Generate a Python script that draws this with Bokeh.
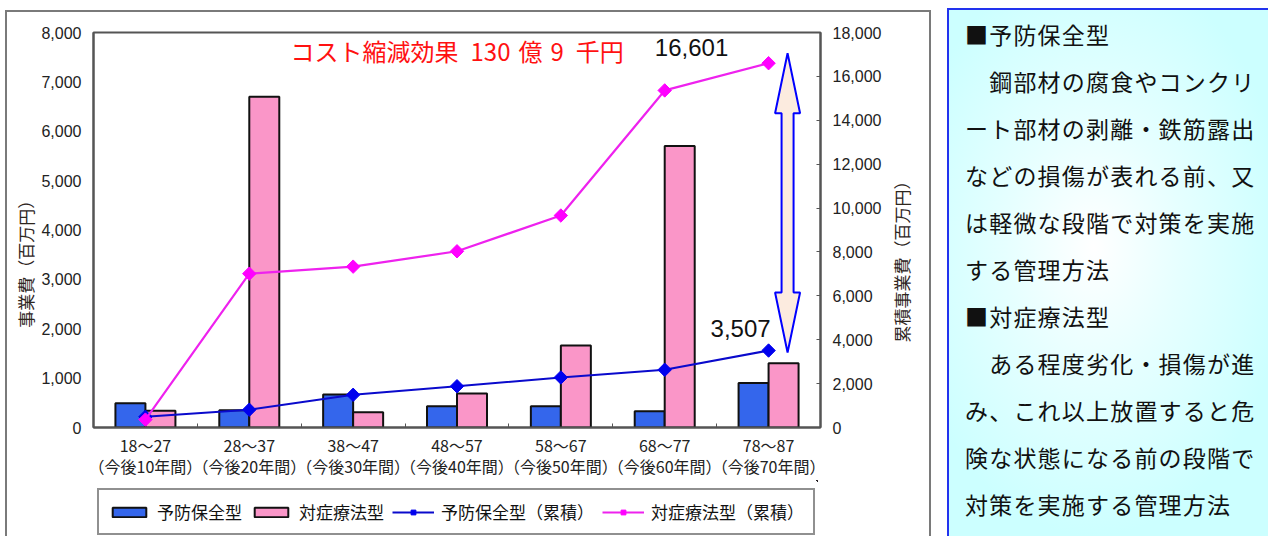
import math
from bokeh.plotting import figure
from bokeh.models import (ColumnDataSource, Range1d, LinearAxis, FixedTicker,
                          NumeralTickFormatter, Legend, LegendItem, Label, Div)
from bokeh.layouts import row, column
from bokeh.transform import dodge
from bokeh.embed import file_html
from bokeh.resources import INLINE

# ---------------- data ----------------
periods = ["18〜27", "28〜37", "38〜47", "48〜57", "58〜67", "68〜77", "78〜87"]
spans = ["（今後10年間）", "（今後20年間）", "（今後30年間）", "（今後40年間）",
         "（今後50年間）", "（今後60年間）", "（今後70年間）"]
preventive = [490, 350, 670, 430, 430, 330, 900]          # 予防保全型 (百万円)
reactive = [340, 6700, 310, 690, 1660, 5700, 1300]        # 対症療法型 (百万円)
preventive_cum = [490, 810, 1490, 1880, 2280, 2630, 3507]  # 予防保全型（累積）
reactive_cum = [360, 7010, 7330, 8030, 9660, 15360, 16601] # 対症療法型（累積）
left_ticks = [0, 1000, 2000, 3000, 4000, 5000, 6000, 7000, 8000]
right_ticks = [0, 2000, 4000, 6000, 8000, 10000, 12000, 14000, 16000, 18000]
series_names = ["予防保全型", "対症療法型", "予防保全型（累積）", "対症療法型（累積）"]
left_title = "事業費（百万円）"
right_title = "累積事業費（百万円）"
saving_text = "コスト縮減効果\u2002130\u2004億\u20049\u2002千円"
panel_lines = ["■予防保全型",
               "　鋼部材の腐食やコンクリ",
               "ート部材の剥離・鉄筋露出",
               "などの損傷が表れる前、又",
               "は軽微な段階で対策を実施",
               "する管理方法",
               "■対症療法型",
               "　ある程度劣化・損傷が進",
               "み、これ以上放置すると危",
               "険な状態になる前の段階で",
               "対策を実施する管理方法"]

FONT = "Noto Sans CJK JP"
BORDER = "2px solid #7a7a7a"
C_BLUE_BAR, C_PINK_BAR = "#3466EC", "#FA96C8"
C_BLUE_LINE, C_BLUE_MK = "#0A0ACC", "#0000EE"
C_PINK_LINE, C_PINK_MK = "#EE22EE", "#FF00FF"

n = len(periods)
idx = list(range(n))
src = ColumnDataSource(dict(x=idx, prev=preventive, reac=reactive,
                            prev_cum=preventive_cum, reac_cum=reactive_cum))

FRAME_W, FRAME_H = 727, 395
CANVAS_W = 86 + FRAME_W + 106
p = figure(frame_width=FRAME_W, frame_height=FRAME_H,
           min_border_left=86, min_border_right=106, min_border_top=20, min_border_bottom=52,
           x_range=Range1d(-0.5, n - 0.5), y_range=Range1d(left_ticks[0], left_ticks[-1]),
           output_backend="svg", toolbar_location=None,
           background_fill_color="white", border_fill_color="white")
p.extra_y_ranges = {"right": Range1d(right_ticks[0], right_ticks[-1])}
p.margin = 0

p.xgrid.visible = False
p.ygrid.visible = False
p.outline_line_color = "#555555"
p.outline_line_width = 2

# x axis
xa = p.xaxis[0]
xa.ticker = FixedTicker(ticks=idx, minor_ticks=[i - 0.5 for i in range(n + 1)])
xa.major_label_overrides = {i: f"{periods[i]}\n{spans[i]}" for i in idx}
xa.major_tick_in = 0
xa.major_tick_out = 0
xa.minor_tick_in = 4
xa.minor_tick_out = 0
xa.minor_tick_line_color = "#555555"
xa.axis_line_color = "#555555"
xa.axis_line_width = 2
xa.major_label_text_font = FONT
xa.major_label_text_font_size = "16px"
xa.major_label_text_color = "#222222"
xa.major_label_text_line_height = 0.88
xa.major_label_standoff = 5

# left axis
ya = p.yaxis[0]
ya.ticker = FixedTicker(ticks=left_ticks)
ya.formatter = NumeralTickFormatter(format="0,0")
ya.major_tick_in = 0
ya.major_tick_out = 0
ya.minor_tick_line_color = None
ya.axis_line_color = "#555555"
ya.axis_line_width = 2
ya.major_label_text_font = "Liberation Sans"
ya.major_label_text_font_size = "16px"
ya.major_label_text_color = "#222222"
ya.major_label_standoff = 12
ya.axis_label = left_title + "\u3000" * 4
ya.axis_label_text_font = FONT
ya.axis_label_text_font_size = "17px"
ya.axis_label_text_font_style = "normal"
ya.axis_label_text_color = "#2e261e"
ya.axis_label_standoff = 0

# right axis
ra = LinearAxis(y_range_name="right", ticker=FixedTicker(ticks=right_ticks),
                formatter=NumeralTickFormatter(format="0,0"))
ra.major_tick_in = 4
ra.major_tick_out = 0
ra.major_tick_line_color = "#555555"
ra.minor_tick_line_color = None
ra.axis_line_color = "#555555"
ra.axis_line_width = 2
ra.major_label_text_font = "Liberation Sans"
ra.major_label_text_font_size = "16px"
ra.major_label_text_color = "#222222"
ra.major_label_standoff = 12
ra.axis_label = "\u3000" * 5 + right_title
ra.axis_label_orientation = math.pi / 2
ra.axis_label_align = "start"
ra.axis_label_text_font = FONT
ra.axis_label_text_font_size = "17px"
ra.axis_label_text_font_style = "normal"
ra.axis_label_text_color = "#2e261e"
ra.axis_label_standoff = 17
p.add_layout(ra, "right")

# bars
BAR_W = 30 / (FRAME_W / n)
bar_style = dict(line_color="#111111", line_width=2)
p.vbar(x=dodge("x", -BAR_W / 2, range=p.x_range), top="prev", width=BAR_W, source=src,
       fill_color=C_BLUE_BAR, **bar_style)
p.vbar(x=dodge("x", BAR_W / 2, range=p.x_range), top="reac", width=BAR_W, source=src,
       fill_color=C_PINK_BAR, **bar_style)

# cumulative lines
mk = dict(marker="square", angle=math.pi / 4, size=9.5)
p.line("x", "prev_cum", source=src, y_range_name="right", line_color=C_BLUE_LINE, line_width=2)
p.scatter("x", "prev_cum", source=src, y_range_name="right", fill_color=C_BLUE_MK,
          line_color=C_BLUE_MK, **mk)
p.line("x", "reac_cum", source=src, y_range_name="right", line_color=C_PINK_LINE, line_width=2.2)
p.scatter("x", "reac_cum", source=src, y_range_name="right", fill_color=C_PINK_MK,
          line_color=C_PINK_MK, **mk)

# double arrow (cost reduction)
px_x = n / FRAME_W                                   # data units per pixel (x)
px_y = (right_ticks[-1] - right_ticks[0]) / FRAME_H  # data units per pixel (right y)
xc = idx[-1] + 19 * px_x
sw, hw = 6 * px_x, 12.5 * px_x
top_tip = reactive_cum[-1] + 10 * px_y
bot_tip = preventive_cum[-1] - 2 * px_y
hl = 60 * px_y
ax = [xc, xc + hw, xc + sw, xc + sw, xc + hw, xc, xc - hw, xc - sw, xc - sw, xc - hw]
ay = [top_tip, top_tip - hl, top_tip - hl, bot_tip + hl, bot_tip + hl, bot_tip,
      bot_tip + hl, bot_tip + hl, top_tip - hl, top_tip - hl]
p.patch(ax, ay, y_range_name="right", fill_color="#FCEBDF", line_color="#0000FF", line_width=2)

# annotations
p.add_layout(Label(x=idx[-1], y=reactive_cum[-1], y_range_name="right", text=f"{reactive_cum[-1]:,}",
                   x_offset=-77, y_offset=16, text_align="center", text_baseline="middle",
                   text_font="Liberation Sans", text_font_size="24px", text_color="#111111"))
p.add_layout(Label(x=idx[-1], y=preventive_cum[-1], y_range_name="right", text=f"{preventive_cum[-1]:,}",
                   x_offset=-28, y_offset=22, text_align="center", text_baseline="middle",
                   text_font="Liberation Sans", text_font_size="24px", text_color="#111111"))
p.add_layout(Label(x=1.397, y=7635, text=saving_text, text_align="left", text_baseline="middle",
                   text_font=FONT, text_font_size="24px", text_color="#FF1111"))

# ---- legend strip: a small figure below the chart whose series (same data, same styles)
# lie outside its visible ranges, so only its legend shows ----
LEG_H = 57
lf = figure(width=CANVAS_W, height=LEG_H, min_border=0, output_backend="svg",
            toolbar_location=None, x_axis_type=None, y_axis_type=None,
            x_range=Range1d(-30, -20), y_range=Range1d(-30, -20),
            background_fill_color="white", border_fill_color="white")
lf.outline_line_color = None
lf.grid.visible = False
lf.margin = 0
lmk = dict(marker="square", angle=math.pi / 4, size=10.5)
r1 = lf.vbar(x="x", top="prev", width=BAR_W, source=src, fill_color=C_BLUE_BAR, **bar_style)
r2 = lf.vbar(x="x", top="reac", width=BAR_W, source=src, fill_color=C_PINK_BAR, **bar_style)
r3l = lf.line("x", "prev_cum", source=src, line_color=C_BLUE_LINE, line_width=2)
r3s = lf.scatter("x", "prev_cum", source=src, fill_color=C_BLUE_MK, line_color=C_BLUE_MK, **lmk)
r4l = lf.line("x", "reac_cum", source=src, line_color=C_PINK_LINE, line_width=2)
r4s = lf.scatter("x", "reac_cum", source=src, fill_color=C_PINK_MK, line_color=C_PINK_MK, **lmk)
legend = Legend(items=[LegendItem(label=series_names[0], renderers=[r1]),
                       LegendItem(label=series_names[1], renderers=[r2]),
                       LegendItem(label=series_names[2], renderers=[r3l, r3s]),
                       LegendItem(label=series_names[3], renderers=[r4l, r4s])],
                orientation="horizontal", location=(4, 2))
legend.glyph_width = 42
legend.glyph_height = 12
legend.label_standoff = 7
legend.spacing = 8
legend.padding = 9
legend.margin = 0
legend.label_text_font = FONT
legend.label_text_font_size = "17px"
legend.label_text_color = "#111111"
legend.border_line_color = "#222222"
legend.border_line_width = 2
legend.background_fill_color = "white"
lf.add_layout(legend, "center")

chart = column(p, lf)
chart.margin = (10, 0, 0, 5)
chart.spacing = 0
chart.styles = {"border-top": BORDER, "border-left": BORDER, "border-right": BORDER}

# right text panel
body = "<br>".join(panel_lines)
html = (
    '<div style="box-sizing:border-box;width:324px;height:528px;'
    'border-left:2px solid #2233ee;border-top:2px solid #2233ee;'
    'background:radial-gradient(ellipse 60% 55% at 45% 45%, #ffffff 0%, #e6ffff 45%, #ccffff 100%);'
    'padding:1px 0 0 16px;white-space:nowrap;'
    f'font-family:\'{FONT}\';font-size:23px;letter-spacing:1.2px;line-height:47px;color:#111;">'
    f'{body}</div>'
)
div = Div(text=html, width=324, height=528, margin=(8, 0, 0, 16))

layout = row(chart, div)
layout.margin = 0
open("out.html", "w").write(file_html(layout, INLINE))
